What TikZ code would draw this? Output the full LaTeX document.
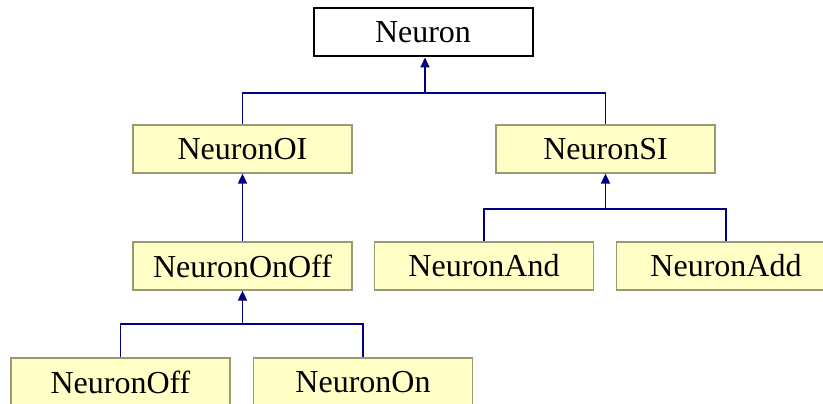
\documentclass[tikz,border=0pt]{standalone}
\usepackage{fontspec}
\setmainfont{Liberation Serif}
\usetikzlibrary{arrows.meta}

\definecolor{classfill}{HTML}{FFFFC6}
\definecolor{classline}{HTML}{9A9A70}
\definecolor{linkblue}{HTML}{000080}

\tikzstyle{klass}=[shape=rectangle,draw=classline,fill=classfill,line width=1.2pt,
    minimum width=219pt,minimum height=48pt,inner sep=0pt,
    font=\fontsize{32}{38}\selectfont]
\tikzstyle{root}=[klass,draw=black,fill=white,line width=2pt]
\tikzstyle{inherit}=[draw=linkblue,line width=1.8pt]
\tikzstyle{tip}=[-{Triangle[length=10pt,width=9pt]}]

\begin{document}
\begin{tikzpicture}[x=1pt,y=-1pt]
        \clip (0,0) rectangle (823,404);
        \fill[white] (0,0) rectangle (823,404);
        % classes
        \node[root] (neuron) at (423,32.5) {Neuron};
        \node[klass] (oi) at (242.5,149) {NeuronOI};
        \node[klass] (si) at (605.5,149) {NeuronSI};
        \node[klass] (onoff) at (242.5,266) {NeuronOnOff};
        \node[klass] (and) at (484,266) {NeuronAnd};
        \node[klass] (add) at (726,266) {NeuronAdd};
        \node[klass] (off) at (120.5,382) {NeuronOff};
        \node[klass] (on) at (363,382) {NeuronOn};
        % junctions
        \coordinate (j0) at (425,93);
        \coordinate (j2) at (605.5,209);
        \coordinate (j3) at (242.5,324);
        % inheritance
        \draw[inherit] (oi.north) |- (j0) -| (si.north);
        \draw[inherit,tip] (j0) -- (j0 |- neuron.south);
        \draw[inherit,tip] (onoff.north) -- (oi.south);
        \draw[inherit] (and.north) |- (j2) -| (add.north);
        \draw[inherit,tip] (j2) -- (si.south);
        \draw[inherit] (off.north) |- (j3) -| (on.north);
        \draw[inherit,tip] (j3) -- (onoff.south);
    \end{tikzpicture}
\end{document}
